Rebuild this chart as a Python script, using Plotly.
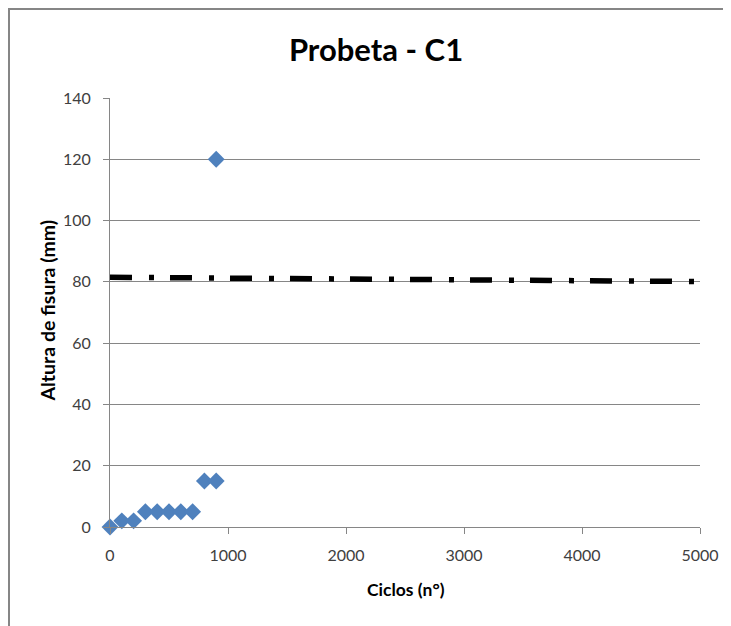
import plotly.graph_objects as go

ciclos = [0, 100, 200, 300, 400, 500, 600, 700, 800, 900, 900]
altura = [0, 2, 2, 5, 5, 5, 5, 5, 15, 15, 120]

limite_x = [0, 5000]
limite_y = [81.5, 80.1]

x_ticks = [0, 1000, 2000, 3000, 4000, 5000]
y_ticks = [0, 20, 40, 60, 80, 100, 120, 140]

W, H = 731, 626
# page is offset by the body margin (about 8 px)
OX, OY = 8, 8
L, R, T, B = 110 - OX, W - (700 - OX), 98 - OY, H - (527 - OY)

FONT = "Lato, Open Sans, sans-serif"

fig = go.Figure()
fig.add_trace(go.Scatter(
    x=limite_x, y=limite_y, mode="lines",
    line=dict(color="black", width=5.5, dash="22px,17px,5px,16px"),
    showlegend=False, hoverinfo="skip"))
fig.add_trace(go.Scatter(
    x=ciclos, y=altura, mode="markers", cliponaxis=False,
    marker=dict(symbol="diamond", size=13, color="#4F81BD",
                line=dict(width=0)),
    showlegend=False))

tick_font = dict(family=FONT, size=16, color="#404040")

fig.update_layout(
    width=W, height=H,
    margin=dict(l=L, r=R, t=T, b=B),
    paper_bgcolor="white", plot_bgcolor="white",
    title=dict(text="<b>Probeta - C1</b>", x=(376 - OX) / W, xref="container", xanchor="center",
               y=1 - (50 - OY) / H, yref="container", yanchor="middle",
               font=dict(family=FONT, size=31, color="black")),
    xaxis=dict(range=[0, 5000], tickvals=x_ticks, showgrid=False, zeroline=False,
               showline=True, linecolor="#868686", linewidth=1,
               ticks="outside", ticklen=6, tickcolor="#868686",
               tickfont=tick_font, ticklabelstandoff=8),
    yaxis=dict(range=[0, 140], tickvals=y_ticks, showgrid=True, gridcolor="#868686", gridwidth=1,
               zeroline=False, showline=True, linecolor="#868686", linewidth=1,
               ticks="outside", ticklen=6, tickcolor="#868686",
               tickfont=tick_font, ticklabelstandoff=9),
    annotations=[
        dict(text="<b>Ciclos (n°)</b>", xref="paper", yref="paper",
             x=(406 - 110) / 590, y=0, yshift=-62, xanchor="center", yanchor="middle",
             showarrow=False, font=dict(family=FONT, size=17.5, color="black")),
        dict(text="<b>Altura de fisura (mm)</b>", xref="paper", yref="paper",
             x=0, xshift=-63, y=(527 - 310.5) / 429, yanchor="middle", xanchor="center",
             textangle=-90, showarrow=False, font=dict(family=FONT, size=19.5, color="black")),
    ],
)

pw = W - L - R
ph = H - T - B
def px_x(v):
    return (v - L) / pw
def px_y(v):
    return (H - B - v) / ph

fig.add_shape(type="line", xref="paper", yref="paper",
              x0=px_x(1), x1=px_x(1), y0=px_y(0), y1=px_y(H + 5),
              line=dict(color="#868686", width=2))
fig.add_shape(type="line", xref="paper", yref="paper",
              x0=px_x(0), x1=px_x(W + 5), y0=px_y(1), y1=px_y(1),
              line=dict(color="#868686", width=2))

fig.write_html("out.html")
